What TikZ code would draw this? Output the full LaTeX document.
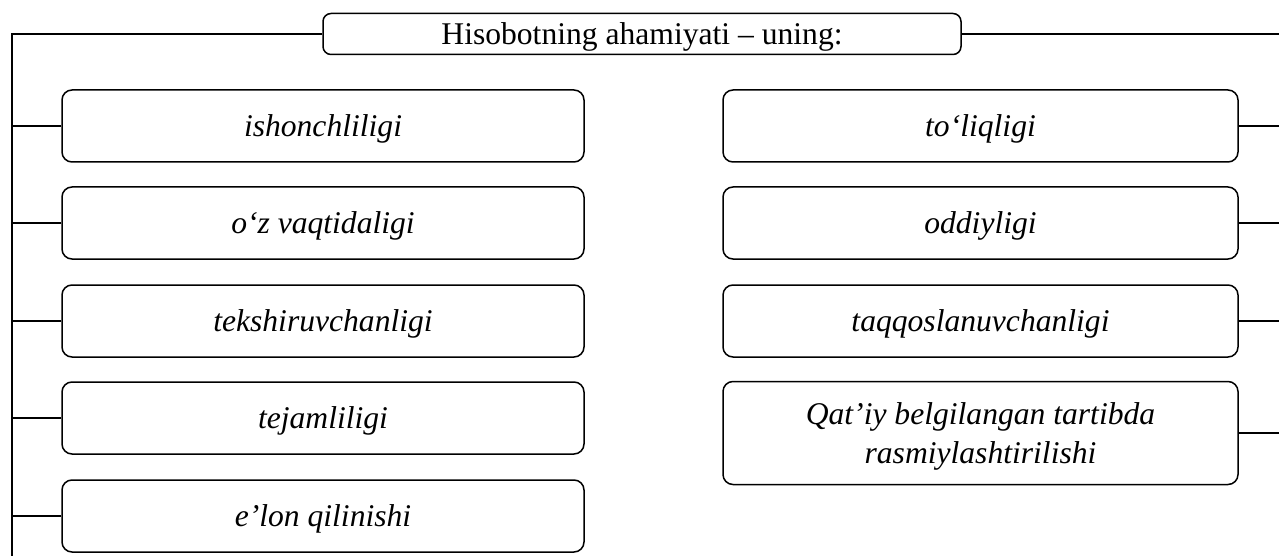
\documentclass[tikz,border=0pt]{standalone}
\usepackage{fontspec}
\setmainfont{Liberation Serif}
\begin{document}
\begin{tikzpicture}[x=1pt,y=-1pt,
  line width=1.5pt,
  box/.style={draw, rounded corners=10pt, align=center, inner sep=0pt,
    font=\fontsize{31.6}{39}\selectfont\itshape},
  one/.style={text height=27.5pt, text depth=7pt},
  lbox/.style={box, one, minimum width=522pt, minimum height=72pt},
  rbox/.style={box, minimum width=515pt, minimum height=72pt},
  topbox/.style={draw, rounded corners=8pt, inner sep=0pt, one,
    minimum width=638pt, minimum height=41pt, font=\fontsize{31.6}{37}\selectfont},
  conn/.style={line width=1.6pt}]
\useasboundingbox (0,0) rectangle (1279,556);
\node[topbox] (top) at (642,34) {Hisobotning ahamiyati – uning:};
\node[lbox] (l1) at (323,126) {ishonchliligi};
\node[lbox] (l2) at (323,223) {o‘z vaqtidaligi};
\node[lbox] (l3) at (323,321) {tekshiruvchanligi};
\node[lbox] (l4) at (323,418) {tejamliligi};
\node[lbox] (l5) at (323,516) {e’lon qilinishi};
\node[rbox, one] (r1) at (980.5,126) {to‘liqligi};
\node[rbox, one] (r2) at (980.5,223) {oddiyligi};
\node[rbox, one] (r3) at (980.5,321) {taqqoslanuvchanligi};
\node[rbox, minimum height=103pt] (r4) at (980.5,433) {\rule{0pt}{28pt}Qat’iy belgilangan tartibda\\rasmiylashtirilishi};
\coordinate (lb) at (12,557);
\coordinate (re) at (1280,0);
\draw[conn] (top.west) -| (lb);
\draw[conn] (top.east) -- (top.east -| re);
\foreach \n in {l1,l2,l3,l4,l5} \draw[conn] (\n.west) -- (\n.west -| lb);
\foreach \n in {r1,r2,r3,r4} \draw[conn] (\n.east) -- (\n.east -| re);
\end{tikzpicture}
\end{document}
